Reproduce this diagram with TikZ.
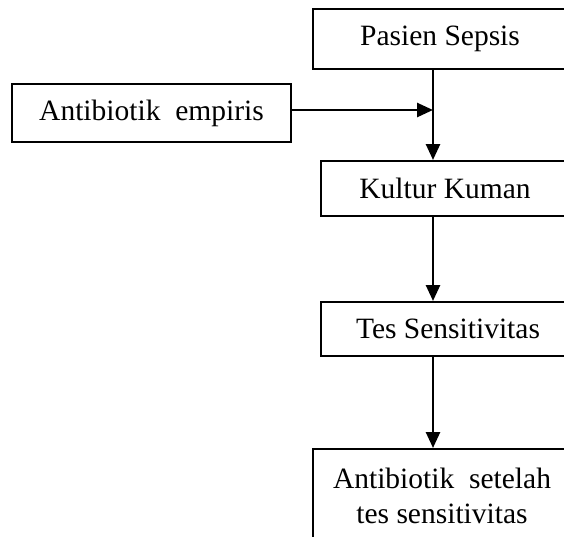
\documentclass[tikz,border=0pt]{standalone}
\usepackage{fontspec}
\setmainfont{Liberation Serif}
\usetikzlibrary{positioning,arrows.meta}
\tikzset{box/.style={rectangle,draw,line width=2pt,minimum width=254pt,minimum height=56pt,inner sep=0pt,align=center,font=\fontsize{29.5}{35}\selectfont},
flow/.style={line width=2.6pt,-{Triangle[length=16pt,width=14pt]}},
}

\begin{document}
\begin{tikzpicture}[x=1pt,y=-1pt]
	\useasboundingbox (0,0) rectangle (564,536);
	\node[box,minimum height=60pt] (pasien) at (440,39) {Pasien Sepsis};
	\node[box,minimum width=279pt,minimum height=58pt] (empiris) at (151.5,113) {Antibiotik\ \ empiris};
	\node[box,minimum width=248pt,minimum height=55pt] (kultur) at (445,188.5) {Kultur Kuman};
	\node[box,minimum height=54pt] (tes) at (448,329) {Tes Sensitivitas};
	\node[box,minimum width=258pt,minimum height=93pt] (akhir) at (442,495.5) {Antibiotik\ \ setelah\\tes sensitivitas};
	\coordinate (join) at (433,110);
	
	\draw[flow] (empiris.east |- join) -- (join);
	\draw[flow] (pasien.south -| join) -- (kultur.north -| join);
	\draw[flow] (kultur.south -| join) -- (tes.north -| join);
	\draw[flow] (tes.south -| join) -- (akhir.north -| join);
\end{tikzpicture}
\end{document}
